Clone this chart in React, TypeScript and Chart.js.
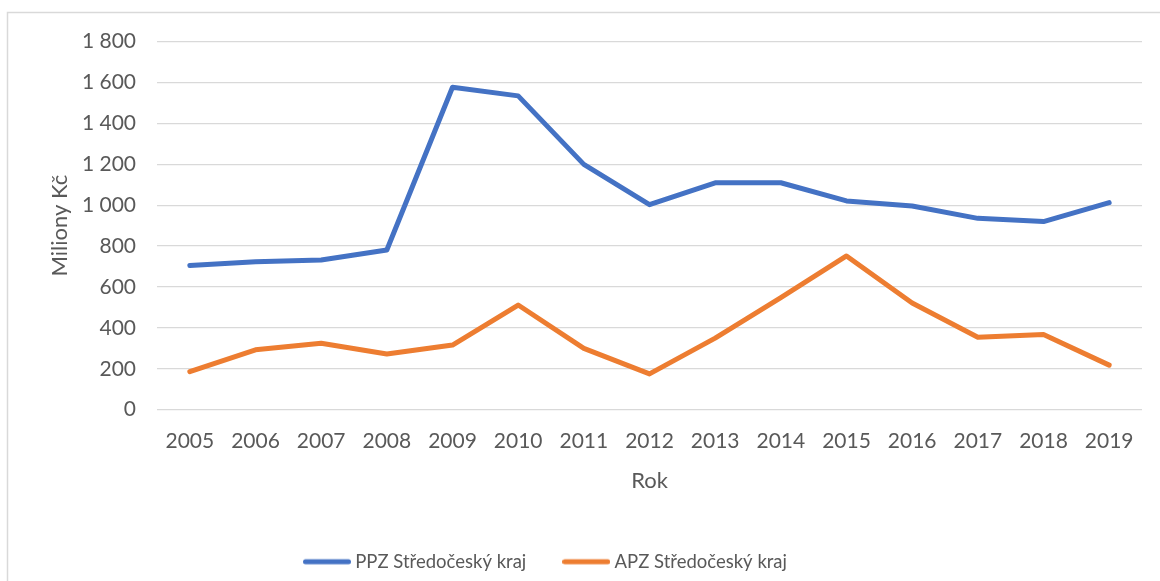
import React, { useEffect, useRef } from "react";
import { Chart, registerables } from "chart.js";

Chart.register(...registerables);

const years = ["2005", "2006", "2007", "2008", "2009", "2010", "2011", "2012", "2013", "2014", "2015", "2016", "2017", "2018", "2019"];
const ppzValues = [705, 724, 732, 781, 1577, 1535, 1200, 1003, 1110, 1110, 1021, 996, 936, 920, 1013];
const apzValues = [186, 293, 325, 272, 316, 512, 300, 175, 350, 548, 752, 522, 354, 368, 218];
const seriesLabels = ["PPZ Středočeský kraj", "APZ Středočeský kraj"];
const seriesColors = ["#4472C4", "#ED7D31"];
const yAxisTitle = "Miliony Kč";
const xAxisTitle = "Rok";

const FONT = "Lato, 'Open Sans', sans-serif";
const GREY = "#595959";
const LEGEND_SHIFT = -23.5;

const frame = {
  id: "frame",
  afterLayout(chart: any) {
    const lg = chart.legend;
    if (lg) {
      lg.left = chart.chartArea ? 0 + LEGEND_SHIFT : lg.left;
      lg.right = chart.width - 18 + LEGEND_SHIFT;
    }
  },
  beforeDraw(chart: any) {
    const ctx = chart.ctx;
    ctx.save();
    ctx.strokeStyle = "#d9d9d9";
    ctx.lineWidth = 1.5;
    ctx.beginPath();
    ctx.moveTo(7.5, chart.height + 5);
    ctx.lineTo(7.5, 12.5);
    ctx.lineTo(chart.width + 5, 12.5);
    ctx.stroke();
    ctx.restore();
  },
};

function legendLine(color: string) {
  const c = document.createElement("canvas");
  c.width = 48;
  c.height = 8;
  const g = c.getContext("2d")!;
  g.strokeStyle = color;
  g.lineWidth = 5;
  g.lineCap = "round";
  g.beginPath();
  g.moveTo(2.5, 4);
  g.lineTo(45.5, 4);
  g.stroke();
  return c;
}

export default function App() {
  const ref = useRef<HTMLCanvasElement | null>(null);
  useEffect(() => {
    if (!ref.current) return;
    const values = [ppzValues, apzValues];
    const chart = new Chart(ref.current, {
      type: "line",
      data: {
        labels: years,
        datasets: values.map((d, i) => ({
          label: seriesLabels[i],
          data: d,
          borderColor: seriesColors[i],
          backgroundColor: seriesColors[i],
          borderWidth: 5,
          borderCapStyle: "round",
          borderJoinStyle: "round",
          pointRadius: 0,
          pointHoverRadius: 0,
          pointStyle: legendLine(seriesColors[i]) as any,
          tension: 0,
        })),
      },
      options: {
        animation: false,
        responsive: false,
        maintainAspectRatio: false,
        layout: { padding: { left: 0, top: 41.7, right: 18, bottom: 0 } },
        plugins: {
          tooltip: { enabled: false },
          legend: {
            position: "bottom",
            labels: {
              usePointStyle: true,
              pointStyleWidth: 38,
              boxWidth: 38,
              padding: 41,
              color: GREY,
              font: { family: FONT, size: 18.5 },
            },
          },
        },
        scales: {
          x: {
            offset: true,
            grid: { display: false, drawTicks: false, offset: true },
            border: { display: false },
            ticks: { color: GREY, font: { family: FONT, size: 21 }, padding: 19, maxRotation: 0 },
            title: {
              display: true,
              text: xAxisTitle,
              color: GREY,
              font: { family: FONT, size: 22 },
              padding: { top: 0, bottom: 17.3 },
            },
            afterFit(scale: any) {
              scale.height = 101.8;
            },
          },
          y: {
            min: 0,
            max: 1800,
            grid: { color: "#d9d9d9", lineWidth: 1.3, drawTicks: false },
            border: { display: false },
            ticks: {
              stepSize: 200,
              color: GREY,
              font: { family: FONT, size: 21 },
              padding: 21,
              callback: (v: any) => {
                const n = Number(v);
                return n >= 1000 ? `${Math.floor(n / 1000)} ${String(n % 1000).padStart(3, "0")}` : String(n);
              },
            },
            title: {
              display: true,
              text: yAxisTitle,
              color: GREY,
              font: { family: FONT, size: 22 },
              padding: { top: 46.8, bottom: 0 },
            },
            afterFit(scale: any) {
              scale.width = 157;
            },
          },
        },
      },
      plugins: [frame],
    });
    return () => chart.destroy();
  }, []);
  return (
    <div style={{ position: "fixed", left: 0, top: 0, width: 1160, height: 581, overflow: "hidden", background: "#fff" }}>
      <canvas ref={ref} width={1160} height={581} style={{ display: "block", width: 1160, height: 581 }} />
    </div>
  );
}
